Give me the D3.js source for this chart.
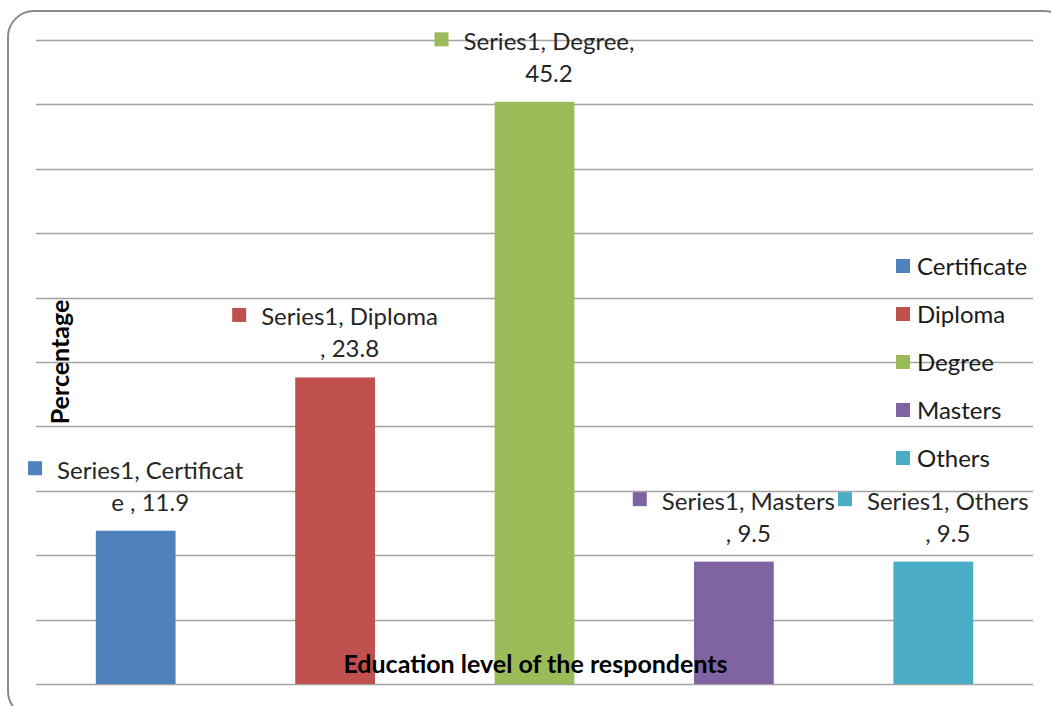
<!DOCTYPE html>
<html>
<head>
<meta charset="utf-8">
<script src="https://cdn.jsdelivr.net/npm/d3@7"></script>
<style>
  html, body { margin: 0; padding: 0; background: #fff; }
  svg { display: block; }
</style>
</head>
<body>
<div id="chart"></div>
<script>
// ---------- Data ----------
const seriesName = "Series1";
const categories = ["Certificate", "Diploma", "Degree", "Masters", "Others"];
const values = [11.9, 23.8, 45.2, 9.5, 9.5];
const colors = ["#4F81BD", "#C0504D", "#9BBB59", "#8064A2", "#4BACC6"];
// data labels as Excel wrapped them (two lines each)
const labelLines = [
  ["Series1, Certificat", "e , 11.9"],
  ["Series1, Diploma", ", 23.8"],
  ["Series1, Degree,", "45.2"],
  ["Series1, Masters", ", 9.5"],
  ["Series1, Others", ", 9.5"]
];
const gridValues = [0, 5, 10, 15, 20, 25, 30, 35, 40, 45, 50];
const yTitle = "Percentage";
const xTitle = "Education level of the respondents";

// ---------- Layout ----------
const width = 1051, height = 706;
const plot = { left: 36, right: 1033, top: 40, bottom: 684 };
const font = "Lato, 'Open Sans', sans-serif";

const svg = d3.select("#chart").append("svg")
  .attr("width", width)
  .attr("height", height);

// chart area border (rounded, runs off the right / bottom edge)
svg.append("rect")
  .attr("x", 8).attr("y", 11)
  .attr("width", 1062).attr("height", 706)
  .attr("rx", 26).attr("ry", 26)
  .attr("fill", "#fff")
  .attr("stroke", "#8a8a8a")
  .attr("stroke-width", 2);

const x = d3.scaleBand()
  .domain(categories)
  .range([plot.left, plot.right])
  .paddingInner(0.6)
  .paddingOuter(0.3);

const y = d3.scaleLinear()
  .domain([0, 50])
  .range([plot.bottom, plot.top]);

// gridlines
svg.append("g")
  .selectAll("line")
  .data(gridValues)
  .join("line")
  .attr("x1", plot.left)
  .attr("x2", plot.right)
  .attr("y1", d => Math.round(y(d)) + 0.5)
  .attr("y2", d => Math.round(y(d)) + 0.5)
  .attr("stroke", "#a3a3a3")
  .attr("stroke-width", 1.3);

// bars
const data = categories.map((c, i) => ({ cat: c, value: values[i], color: colors[i], lines: labelLines[i] }));

svg.append("g")
  .selectAll("rect")
  .data(data)
  .join("rect")
  .attr("x", d => x(d.cat))
  .attr("width", x.bandwidth())
  .attr("y", d => y(d.value))
  .attr("height", d => y(0) - y(d.value))
  .attr("fill", d => d.color);

// axis titles
svg.append("text")
  .attr("transform", `translate(69,${362}) rotate(-90)`)
  .attr("text-anchor", "middle")
  .style("font-family", font)
  .style("font-size", "25px")
  .style("font-weight", "700")
  .attr("fill", "#000")
  .text(yTitle);

svg.append("text")
  .attr("x", (plot.left + plot.right) / 2 + 1)
  .attr("y", 673)
  .attr("text-anchor", "middle")
  .style("font-family", font)
  .style("font-size", "25px")
  .style("font-weight", "700")
  .attr("fill", "#000")
  .text(xTitle);

// data labels: marker + two centered text lines, whole box centered over bar
const keySize = 14, keyGap = 15, lineGap = 32, labelFont = "24px";

const labels = svg.append("g")
  .selectAll("g")
  .data(data)
  .join("g");

labels.each(function(d) {
  const g = d3.select(this);
  const base2 = y(d.value) - 20;
  const base1 = base2 - lineGap;
  const t1 = g.append("text").attr("y", base1).text(d.lines[0]);
  const t2 = g.append("text").attr("y", base2).text(d.lines[1]);
  g.selectAll("text")
    .style("font-family", font)
    .style("font-size", labelFont)
    .attr("fill", "#262626")
    .attr("text-anchor", "middle");
  const w = Math.max(t1.node().getComputedTextLength(), t2.node().getComputedTextLength());
  const cx = x(d.cat) + x.bandwidth() / 2;
  const boxLeft = cx - (keySize + keyGap + w) / 2;
  const textCx = boxLeft + keySize + keyGap + w / 2;
  t1.attr("x", textCx);
  t2.attr("x", textCx);
  g.append("rect")
    .attr("x", boxLeft)
    .attr("y", base1 - 10.5 - keySize / 2)
    .attr("width", keySize)
    .attr("height", keySize)
    .attr("fill", d.color);
});

// legend
const legend = svg.append("g")
  .selectAll("g")
  .data(data)
  .join("g")
  .attr("transform", (d, i) => `translate(896,${266 + i * 48})`);

legend.append("rect")
  .attr("x", 0)
  .attr("y", -7)
  .attr("width", 14)
  .attr("height", 14)
  .attr("fill", d => d.color);

legend.append("text")
  .attr("x", 21)
  .attr("y", 8.5)
  .style("font-family", font)
  .style("font-size", labelFont)
  .attr("fill", "#1a1a1a")
  .text(d => d.cat);
</script>
</body>
</html>
